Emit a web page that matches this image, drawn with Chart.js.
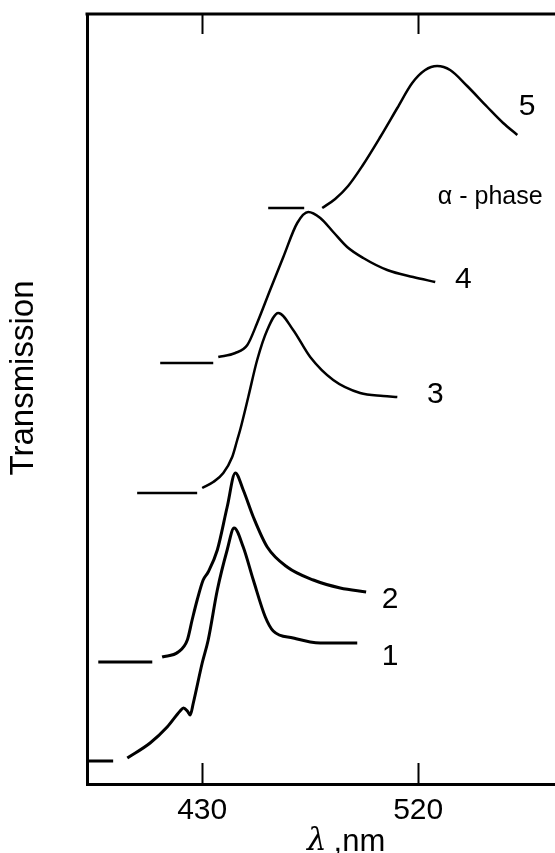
<!DOCTYPE html>
<html lang="en">
<head>
  <meta charset="UTF-8" />
  <title>Transmission spectra</title>
  <script src="https://cdn.jsdelivr.net/npm/chart.js"></script>
  <style>
    body { margin: 0; background: #fff; }
    .chart-box { width: 555px; height: 853px; }
  </style>
</head>
<body>
  <div class="chart-box">
    <canvas id="specChart"></canvas>
  </div>

  <script>
    // wavelength (nm) / transmission (arb. units) for each curve, null = gap after baseline dash
    const wave1 = [382.5, 392.9, 393.5, 398.8, 408.3, 415.4, 420.8, 422.2, 423.8, 425.0, 426.3, 430.0, 432.5, 436.3, 440.4, 443.3, 447.1, 451.3, 456.3, 459.6, 467.9, 479.2, 494.6];
    const trans1 = [23, 23, null, 26, 41, 57, 73, 76, 73, 69, 81, 121, 144, 194, 234, 256, 237, 204, 167, 153, 146, 141, 141];

    const wave2 = [386.7, 409.2, 411.0, 413.3, 420.0, 423.8, 425.8, 427.9, 430.4, 432.5, 436.3, 440.4, 443.8, 447.1, 451.3, 457.1, 465.4, 476.3, 487.5, 498.3];
    const trans2 = [122, 122, null, 127, 132, 144, 164, 184, 204, 212, 234, 277, 311, 294, 267, 237, 217, 204, 196, 192];

    const wave3 = [402.9, 427.9, 429.0, 430.0, 434.6, 438.8, 442.5, 444.6, 445.8, 449.2, 452.9, 457.1, 461.7, 467.9, 475.0, 484.6, 495.8, 505.4, 511.3];
    const trans3 = [291, 291, null, 296, 302, 311, 327, 344, 354, 387, 424, 454, 471, 454, 427, 404, 391, 388, 387];

    const wave4 = [412.5, 434.6, 435.5, 436.7, 443.8, 448.8, 452.9, 458.3, 463.8, 469.6, 474.2, 479.2, 484.6, 490.4, 497.1, 507.1, 517.9, 527.1];
    const trans4 = [421, 421, null, 427, 431, 439, 461, 494, 527, 561, 572, 566, 552, 537, 526, 514, 507, 502];

    const wave5 = [457.5, 472.5, 476.0, 480.0, 485.4, 490.8, 496.7, 504.2, 511.3, 517.5, 522.9, 527.9, 533.3, 540.4, 548.8, 555.4, 561.3];
    const trans5 = [576, 576, null, 576, 585, 598, 618, 647, 676, 701, 714, 718, 714, 698, 677, 661, 649];

    const xTicks = [430, 520];

    // curve labels, anchored in data units
    const labelText = ['1', '2', '3', '4', '5', 'α - phase'];
    const labelWave = [508.3, 508.3, 527.1, 538.8, 565.4, 550.0];
    const labelTrans = [127, 184, 389, 504, 677, 587];

    const FONT = '"Liberation Sans", Arial, Helvetica, sans-serif';

    function pts(w, t) {
      return w.map((x, i) => ({ x: x, y: t[i] }));
    }

    const curves = [[wave1, trans1], [wave2, trans2], [wave3, trans3], [wave4, trans4], [wave5, trans5]];

    const extras = {
      id: 'extras',
      afterDraw(chart) {
        const ctx = chart.ctx;
        const a = chart.chartArea;
        const xs = chart.scales.x;
        const ys = chart.scales.y;
        ctx.save();
        ctx.strokeStyle = '#000';
        ctx.fillStyle = '#000';

        // top frame line
        ctx.lineWidth = 3;
        ctx.beginPath();
        ctx.moveTo(a.left - 1.5, a.top);
        ctx.lineTo(a.right, a.top);
        ctx.stroke();

        // inward tick marks, top and bottom
        ctx.lineWidth = 2;
        xTicks.forEach(v => {
          const px = Math.round(xs.getPixelForValue(v)) + 0.5;
          ctx.beginPath();
          ctx.moveTo(px, a.bottom);
          ctx.lineTo(px, a.bottom - 21);
          ctx.moveTo(px, a.top);
          ctx.lineTo(px, a.top + 20);
          ctx.stroke();
        });

        // curve numbers
        ctx.textAlign = 'center';
        ctx.textBaseline = 'middle';
        labelText.forEach((s, i) => {
          ctx.font = (s.length > 1 ? '25px ' : '30px ') + FONT;
          ctx.fillText(s, xs.getPixelForValue(labelWave[i]), ys.getPixelForValue(labelTrans[i]));
        });

        // x title: italic lambda + ",nm"
        ctx.textAlign = 'left';
        ctx.font = 'italic 31px "DejaVu Serif", serif';
        ctx.fillText('λ', 307, 842);
        ctx.font = '31px ' + FONT;
        ctx.fillText(' ,nm', 325, 842);

        // y title
        ctx.textAlign = 'center';
        ctx.translate(24, 378);
        ctx.rotate(-Math.PI / 2);
        ctx.font = '33px ' + FONT;
        ctx.fillText('Transmission', 0, 0);
        ctx.restore();
      }
    };

    new Chart(document.getElementById('specChart'), {
      type: 'line',
      data: {
        datasets: curves.map((c, i) => ({
          data: pts(c[0], c[1]),
          borderColor: '#000',
          borderWidth: i < 2 ? 3 : 2.5,
          pointRadius: 0,
          fill: false,
          spanGaps: false,
          cubicInterpolationMode: 'monotone'
        }))
      },
      options: {
        responsive: true,
        maintainAspectRatio: false,
        animation: false,
        layout: { padding: { top: 14, right: 0, left: 0, bottom: 0 } },
        plugins: {
          legend: { display: false },
          tooltip: { enabled: false }
        },
        scales: {
          x: {
            type: 'linear',
            min: 382,
            max: 577,
            afterBuildTicks: s => { s.ticks = xTicks.map(v => ({ value: v })); },
            afterFit: s => { s.height = 69; },
            grid: { display: false, drawTicks: false },
            border: { display: true, color: '#000', width: 3 },
            ticks: {
              color: '#000',
              padding: 9,
              maxRotation: 0,
              font: { size: 30, family: FONT }
            }
          },
          y: {
            type: 'linear',
            min: 0,
            max: 770,
            afterFit: s => { s.width = 87; },
            grid: { display: false, drawTicks: false },
            border: { display: true, color: '#000', width: 3 },
            ticks: { display: false }
          }
        }
      },
      plugins: [extras]
    });
  </script>
</body>
</html>
